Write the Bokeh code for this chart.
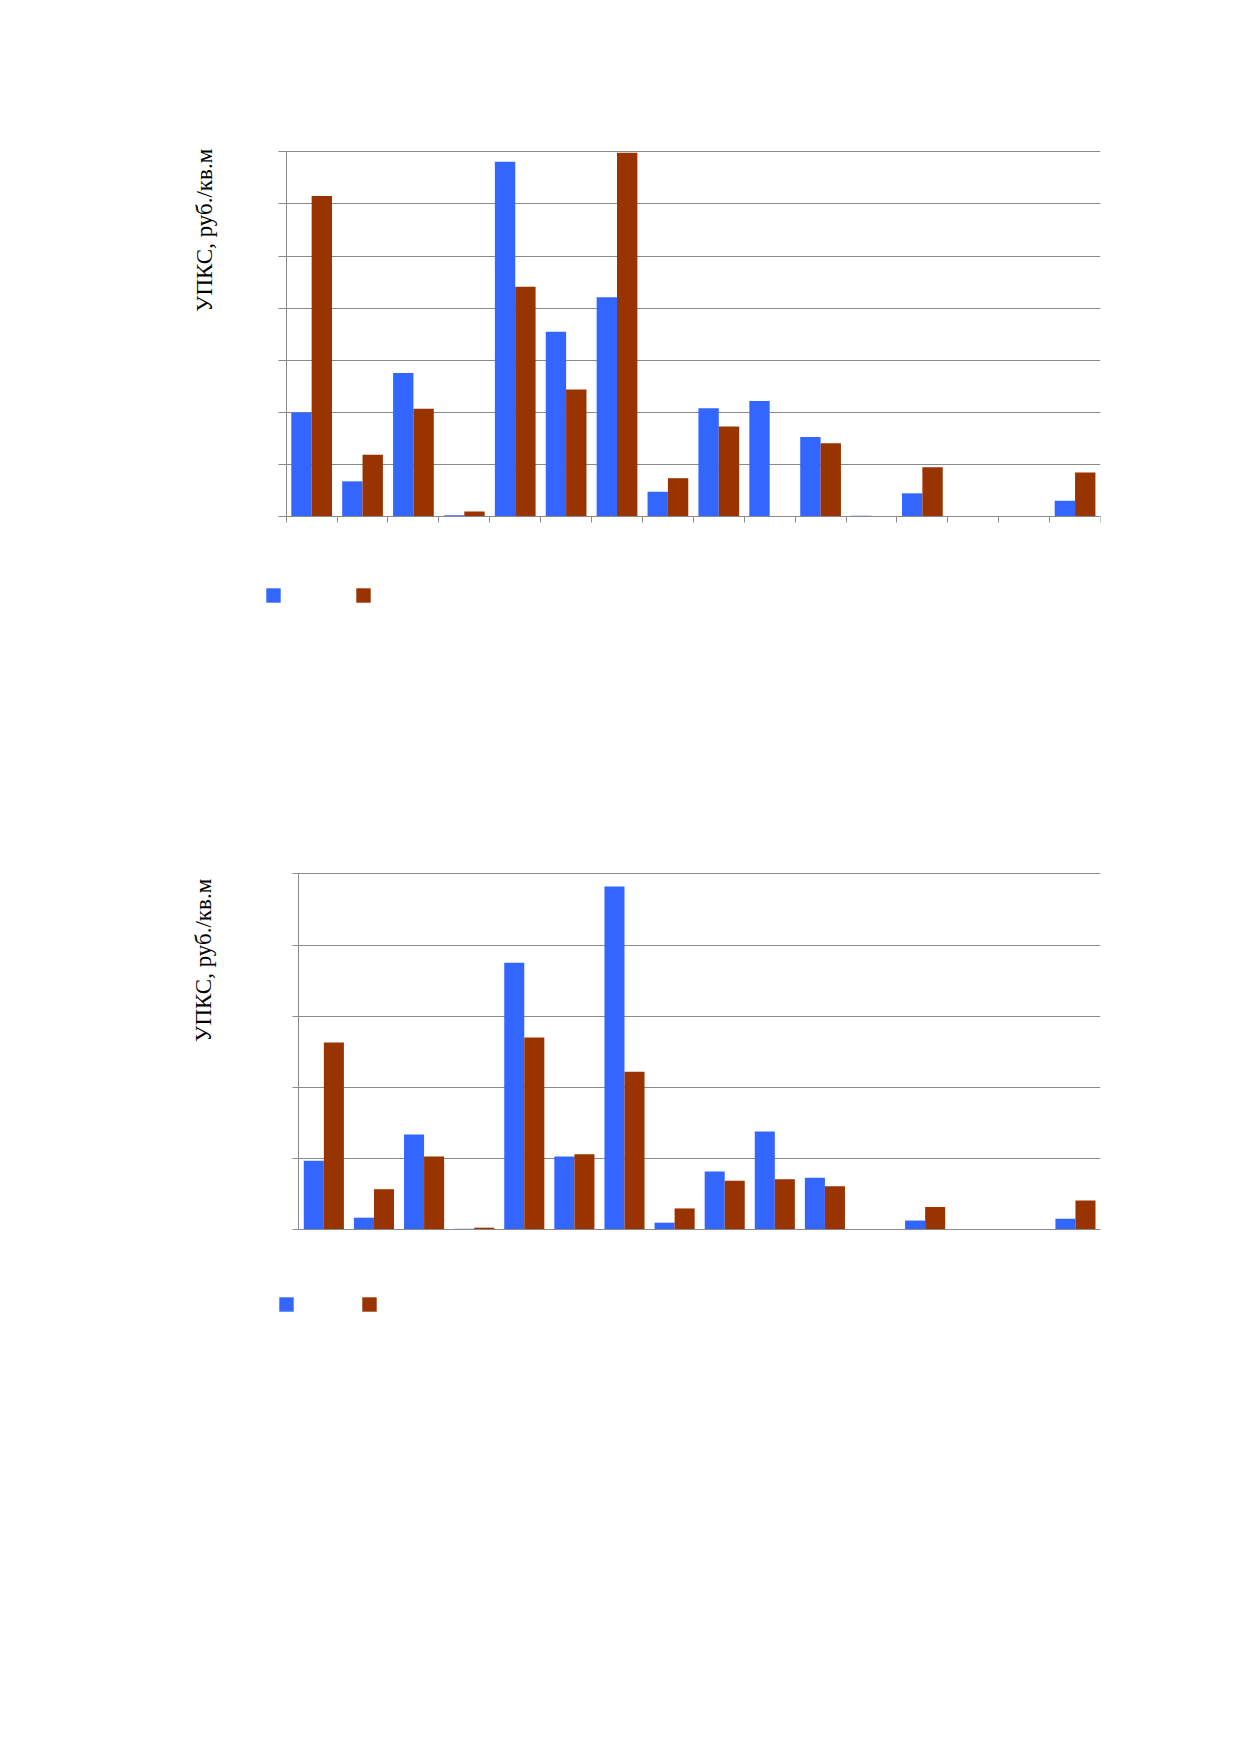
from bokeh.plotting import figure
from bokeh.models import Range1d, FixedTicker, Legend, LegendItem, Label, CustomJSTickFormatter, BoxAnnotation
from bokeh.layouts import column
from bokeh.embed import file_html
from bokeh.resources import INLINE

# ---- data (rub per sq.m) ----
categories = list(range(1, 17))
top_blue = [2000, 680, 2760, 30, 6810, 3550, 4210, 480, 2080, 2220, 1530, 20, 450, 0, 0, 310]
top_brown = [6150, 1190, 2070, 100, 4410, 2440, 6980, 740, 1730, 0, 1410, 0, 950, 0, 0, 850]
bot_blue = [970, 170, 1340, 14, 3750, 1030, 4820, 100, 820, 1380, 730, 5, 130, 0, 0, 155]
bot_brown = [2630, 570, 1030, 30, 2700, 1060, 2220, 300, 690, 710, 610, 0, 320, 0, 0, 410]
top_yticks = [0, 1000, 2000, 3000, 4000, 5000, 6000, 7000]
bot_yticks = [0, 1000, 2000, 3000, 4000, 5000]
y_title = "УПКС, руб./кв.м"

BLUE = "#3366FF"
BROWN = "#993300"
GREY = "#8a8a8a"

FIG_W = 1223
FRAME_LEFT = 180
FRAME_RIGHT = 1100
GLYPH = 18            # legend glyph box; bar legend glyph is drawn at 80% of it
INSET = GLYPH * 0.1


def make_chart(blue, brown, yticks, fig_top, H, axis_left, top_tick, base,
               frame_top, frame_bottom, ytick_out, xtick_out,
               label_x, label_top, leg_left, leg_bottom, leg_pitch):
    """All geometry arguments are page pixel positions of the layout."""
    n = len(categories)
    ymax = yticks[-1]
    s = (FRAME_RIGHT - axis_left) / n          # px per category
    k = (base - top_tick) / ymax               # px per unit
    x0 = (FRAME_LEFT - axis_left) / s
    y1 = ymax + (top_tick - frame_top) / k
    y0 = -(frame_bottom - base) / k

    p = figure(width=FIG_W, height=H, x_range=Range1d(x0, n), y_range=Range1d(y0, y1),
               output_backend="svg", toolbar_location=None,
               min_border_left=FRAME_LEFT, min_border_right=FIG_W - FRAME_RIGHT,
               min_border_top=frame_top - fig_top,
               min_border_bottom=fig_top + H - frame_bottom)
    p.outline_line_color = None
    p.background_fill_color = "white"
    p.border_fill_color = "white"

    xs_blue = [i - 1 + 0.3 for i in categories]
    xs_brown = [i - 1 + 0.7 for i in categories]
    rb = p.vbar(x=xs_blue, top=blue, width=0.4, bottom=0, fill_color=BLUE, line_color=None)
    rr = p.vbar(x=xs_brown, top=brown, width=0.4, bottom=0, fill_color=BROWN, line_color=None)

    blank = CustomJSTickFormatter(code="return ''")
    yax = p.yaxis[0]
    yax.fixed_location = 0
    yax.bounds = (0, ymax)
    yax.ticker = FixedTicker(ticks=yticks)
    yax.formatter = blank
    yax.major_label_text_font_size = "0px"
    yax.major_label_standoff = 0
    yax.major_tick_in = 0
    yax.major_tick_out = ytick_out
    yax.minor_tick_line_color = None
    yax.axis_line_color = GREY
    yax.major_tick_line_color = GREY

    xax = p.xaxis[0]
    xax.fixed_location = 0
    xax.bounds = (0, n)
    xax.ticker = FixedTicker(ticks=list(range(0, n + 1)))
    xax.formatter = blank
    xax.major_label_text_font_size = "0px"
    xax.major_label_standoff = 0
    xax.major_tick_in = 0
    xax.major_tick_out = xtick_out
    xax.minor_tick_line_color = None
    xax.axis_line_color = GREY
    xax.major_tick_line_color = GREY if xtick_out > 0 else None

    p.xgrid.visible = False
    p.ygrid.ticker = FixedTicker(ticks=yticks)
    p.ygrid.grid_line_color = GREY
    p.ygrid.grid_line_width = 1

    # white mask so that the grid lines start at the value axis
    mask = BoxAnnotation(left=x0 - 1, right=0, fill_color="white", fill_alpha=1.0,
                         line_color=None, level="underlay")
    p.add_layout(mask)

    lab = Label(x=(label_x - axis_left) / s, y=ymax - (label_top - top_tick) / k,
                text=y_title, angle=90, angle_units="deg",
                text_align="right", text_baseline="alphabetic",
                text_font="Liberation Serif", text_font_size="23px", text_color="black")
    p.add_layout(lab)

    legend = Legend(items=[LegendItem(label=" ", renderers=[rb]),
                           LegendItem(label=" ", renderers=[rr])],
                    orientation="horizontal",
                    location=(round(leg_left - INSET - FRAME_LEFT),
                              round(frame_bottom - leg_bottom - INSET)),
                    glyph_width=GLYPH, glyph_height=GLYPH,
                    label_width=int(round(leg_pitch - GLYPH - 6)), label_height=GLYPH,
                    label_standoff=0, spacing=6, padding=0, margin=0,
                    label_text_font_size="10px",
                    border_line_color=None, background_fill_alpha=0)
    p.add_layout(legend)
    return p


p1 = make_chart(top_blue, top_brown, top_yticks, fig_top=0, H=700,
                axis_left=285.7, top_tick=151.3, base=516.3,
                frame_top=130, frame_bottom=620, ytick_out=8, xtick_out=6,
                label_x=204, label_top=148.3, leg_left=265.7, leg_bottom=601.7, leg_pitch=89.6)
p2 = make_chart(bot_blue, bot_brown, bot_yticks, fig_top=700, H=760,
                axis_left=298.3, top_tick=873.3, base=1229.3,
                frame_top=850, frame_bottom=1330, ytick_out=6, xtick_out=0,
                label_x=202.5, label_top=878.3, leg_left=279, leg_bottom=1311, leg_pitch=83.3)

layout = column(p1, p2, spacing=0)
open("out.html", "w").write(file_html(layout, INLINE))
